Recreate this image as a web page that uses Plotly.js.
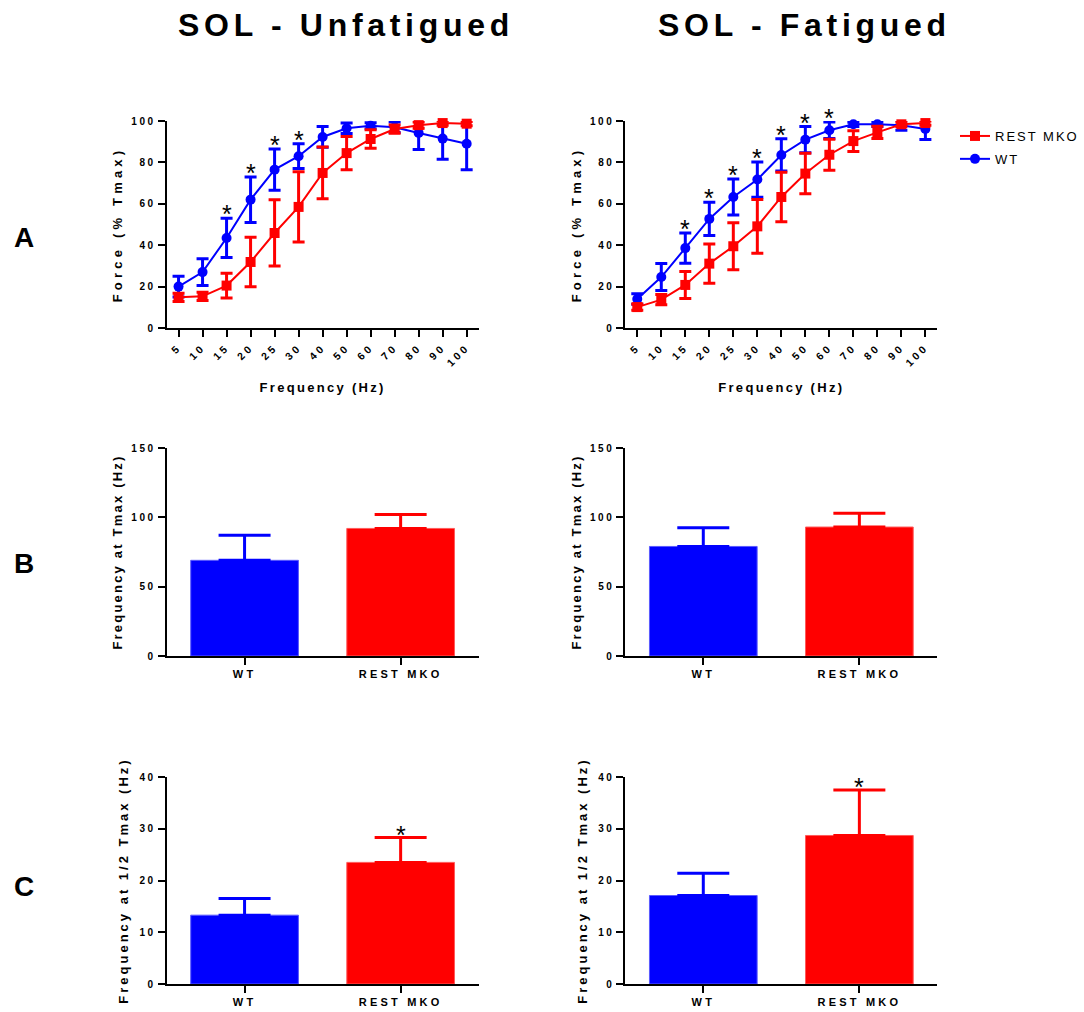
<!DOCTYPE html>
<html>
<head>
<meta charset="utf-8">
<script src="https://cdn.plot.ly/plotly-3.0.1.min.js"></script>
<style>
html,body{margin:0;padding:0;background:#fff}
#chart{width:1084px;height:1012px}
.xaxislayer-above text{letter-spacing:3.2px !important}
.yaxislayer-above text{letter-spacing:2.5px !important}
.ytitle,.y2title{letter-spacing:4.2px}
.xtitle,.x2title{letter-spacing:2.3px}
.y3title,.y4title{letter-spacing:2.2px}
.y5title,.y6title{letter-spacing:3px}
.legendtext{letter-spacing:2px}
</style>
</head>
<body>
<div id="chart"></div>
<script>
// ---------- Data ----------
const freqLabels = ['5','10','15','20','25','30','40','50','60','70','80','90','100'];

// SOL - Unfatigued, force (% Tmax)
const wtUnfMean = [20, 27, 43.5, 62, 76.5, 83, 92.3, 96.5, 97.7, 97, 94.2, 91.5, 89];
const wtUnfErr  = [5, 6.5, 9.5, 11, 10, 6, 5, 2.5, 1.5, 2.5, 8, 10, 12.5];
const koUnfMean = [14.8, 15.3, 20.5, 31.9, 45.9, 58.5, 74.9, 84.5, 91.3, 96.1, 98, 99, 98.7];
const koUnfErr  = [2, 2, 6, 12, 16, 17, 12.5, 8, 4.5, 2, 1.5, 1, 1];

// SOL - Fatigued, force (% Tmax)
const wtFatMean = [14, 24.6, 38.6, 52.7, 63.3, 71.7, 83.6, 91, 95.5, 98.4, 98.4, 98, 96.1];
const wtFatErr  = [2.5, 6.5, 7.3, 8, 8.7, 8.5, 7.8, 6.3, 4, 1, 1, 2.5, 5];
const koFatMean = [10.1, 13.7, 20.8, 31.1, 39.5, 49.1, 63.3, 74.6, 83.7, 90.3, 94.5, 98.4, 99];
const koFatErr  = [1.5, 2.5, 6.5, 9.5, 11.3, 13, 12, 9.8, 7.5, 5, 3, 1, 1];

// significant frequencies (*)
const sigUnf = ['15','20','25','30'];
const sigFat = ['15','20','25','30','40','50','60'];

// Bar charts
const groups = ['WT', 'REST MKO'];
const tmaxUnf = [69, 92];      const tmaxUnfErr = [18, 10];
const tmaxFat = [79, 93];      const tmaxFatErr = [13.5, 10];
const halfUnf = [13.3, 23.5];  const halfUnfErr = [3.2, 4.8];
const halfFat = [17.1, 28.7];  const halfFatErr = [4.3, 8.8];
const halfSig = ['REST MKO'];  // significant in both conditions

const seriesNames = ['WT', 'REST MKO'];
const columnTitles = ['SOL - Unfatigued', 'SOL - Fatigued'];
const panelLetters = ['A', 'B', 'C'];

// ---------- Styles ----------
const FONT = 'Liberation Sans, Arial, sans-serif';
const BLUE = '#0000FF';
const RED = '#FF0000';

const traces = [];
function lineTraces(xa, ya, wtM, wtE, koM, koE, show) {
  traces.push({
    type: 'scatter', mode: 'lines+markers', name: seriesNames[0], legendrank: 2, legendgroup: 'wt',
    x: freqLabels, y: wtM, xaxis: xa, yaxis: ya, showlegend: show, cliponaxis: false,
    line: {color: BLUE, width: 2},
    marker: {symbol: 'circle', size: 10, color: BLUE},
    error_y: {type: 'data', array: wtE, visible: true, color: BLUE, thickness: 3, width: 6}
  });
  traces.push({
    type: 'scatter', mode: 'lines+markers', name: seriesNames[1], legendrank: 1, legendgroup: 'ko',
    x: freqLabels, y: koM, xaxis: xa, yaxis: ya, showlegend: show, cliponaxis: false,
    line: {color: RED, width: 2},
    marker: {symbol: 'square', size: 10, color: RED},
    error_y: {type: 'data', array: koE, visible: true, color: RED, thickness: 3, width: 6}
  });
}
lineTraces('x', 'y', wtUnfMean, wtUnfErr, koUnfMean, koUnfErr, true);
lineTraces('x2', 'y2', wtFatMean, wtFatErr, koFatMean, koFatErr, false);

function barTraces(xa, ya, vals, errs) {
  const cols = [BLUE, RED];
  const edge = ['#5a5aff', '#ff5a5a'];
  for (let i = 0; i < groups.length; i++) {
    traces.push({
      type: 'bar', x: [groups[i]], y: [vals[i]], xaxis: xa, yaxis: ya, width: 0.69,
      showlegend: false, name: groups[i], cliponaxis: false,
      marker: {color: cols[i], line: {color: edge[i], width: 1}},
      error_y: {type: 'data', symmetric: false, array: [errs[i]], arrayminus: [0],
                color: cols[i], thickness: 3, width: 26}
    });
  }
}
barTraces('x3', 'y3', tmaxUnf, tmaxUnfErr);
barTraces('x4', 'y4', tmaxFat, tmaxFatErr);
barTraces('x5', 'y5', halfUnf, halfUnfErr);
barTraces('x6', 'y6', halfFat, halfFatErr);

// ---------- Axes ----------
const W = 1084, H = 1012;
const colDom = [[167 / W, 480 / W], [627 / W, 940 / W]];
const rowDom = [[1 - 328 / H, 1 - 121 / H], [1 - 656 / H, 1 - 448 / H], [1 - 984 / H, 1 - 777 / H]];

function axBase(extra) {
  return Object.assign({
    showline: true, linecolor: '#000', linewidth: 2,
    ticks: 'outside', ticklen: 7, tickwidth: 2, tickcolor: '#000',
    showgrid: false, zeroline: false, fixedrange: true,
    tickfont: {family: FONT, size: 10, weight: 700, color: '#000'}
  }, extra);
}
const axTitleFont = {family: FONT, size: 13, weight: 700, color: '#000'};

const layout = {
  width: W, height: H,
  margin: {l: 0, r: 0, t: 0, b: 0},
  paper_bgcolor: '#fff', plot_bgcolor: 'rgba(0,0,0,0)',
  font: {family: FONT, color: '#000'},
  barmode: 'overlay',
  showlegend: true,
  legend: {x: 958 / W, y: 1 - 121 / H, xanchor: 'left', yanchor: 'top',
           traceorder: 'grouped', tracegroupgap: 3,
           font: {family: FONT, size: 13, color: '#000'}, bgcolor: 'rgba(0,0,0,0)'},
  annotations: []
};

// line chart axes
['', '2'].forEach((s, c) => {
  layout['xaxis' + s] = axBase({
    domain: colDom[c], anchor: 'y' + s, type: 'category',
    categoryorder: 'array', categoryarray: freqLabels,
    range: [-0.5, freqLabels.length - 0.5], tickangle: -45,
    tickfont: {family: FONT, size: 10.5, weight: 700, color: '#000'},
    title: {text: 'Frequency (Hz)', font: axTitleFont, standoff: 22}
  });
  layout['yaxis' + s] = axBase({
    domain: rowDom[0], anchor: 'x' + s, range: [0, 100], dtick: 20,
    title: {text: 'Force (% Tmax)', font: axTitleFont, standoff: 13}
  });
});
// bar chart axes
const barY = [
  {n: '3', row: 1, col: 0, range: [0, 150], dtick: 50, title: 'Frequency at Tmax (Hz)'},
  {n: '4', row: 1, col: 1, range: [0, 150], dtick: 50, title: 'Frequency at Tmax (Hz)'},
  {n: '5', row: 2, col: 0, range: [0, 40], dtick: 10, title: 'Frequency at 1/2 Tmax (Hz)'},
  {n: '6', row: 2, col: 1, range: [0, 40], dtick: 10, title: 'Frequency at 1/2 Tmax (Hz)'}
];
barY.forEach(b => {
  layout['xaxis' + b.n] = axBase({
    domain: colDom[b.col], anchor: 'y' + b.n, type: 'category',
    categoryorder: 'array', categoryarray: groups, range: [-0.5, 1.5],
    tickfont: {family: FONT, size: 11, weight: 700, color: '#000'}
  });
  layout['yaxis' + b.n] = axBase({
    domain: rowDom[b.row], anchor: 'x' + b.n, range: b.range, dtick: b.dtick,
    title: {text: b.title, font: axTitleFont, standoff: 13}
  });
});

// ---------- Annotations ----------
const titleX = [347 / W, 807 / W];
columnTitles.forEach((t, i) => {
  layout.annotations.push({
    xref: 'paper', yref: 'paper', x: titleX[i], y: 1 - 25 / H, xanchor: 'center', yanchor: 'middle',
    text: '<span style="letter-spacing:4.7px">' + t + '</span>', showarrow: false,
    font: {family: FONT, size: 32, weight: 700, color: '#000'}
  });
});
const letterY = [238, 563, 886];
panelLetters.forEach((t, i) => {
  layout.annotations.push({
    xref: 'paper', yref: 'paper', x: 24 / W, y: 1 - letterY[i] / H, xanchor: 'center', yanchor: 'middle',
    text: t, showarrow: false, font: {family: FONT, size: 28, weight: 700, color: '#000'}
  });
});
function starLine(xa, ya, sig, mean, err) {
  sig.forEach(f => {
    const i = freqLabels.indexOf(f);
    layout.annotations.push({
      xref: xa, yref: ya, x: i, y: mean[i] + err[i], xanchor: 'center', yanchor: 'middle',
      yshift: 4, text: '*', showarrow: false, font: {family: FONT, size: 25, color: '#000'}
    });
  });
}
starLine('x', 'y', sigUnf, wtUnfMean, wtUnfErr);
starLine('x2', 'y2', sigFat, wtFatMean, wtFatErr);
function starBar(xa, ya, vals, errs) {
  halfSig.forEach(g => {
    const i = groups.indexOf(g);
    layout.annotations.push({
      xref: xa, yref: ya, x: i, y: vals[i] + errs[i], xanchor: 'center', yanchor: 'middle',
      yshift: 3, text: '*', showarrow: false, font: {family: FONT, size: 25, color: '#000'}
    });
  });
}
starBar('x5', 'y5', halfUnf, halfUnfErr);
starBar('x6', 'y6', halfFat, halfFatErr);

Plotly.newPlot('chart', traces, layout, {displayModeBar: false, staticPlot: true});
</script>
</body>
</html>
